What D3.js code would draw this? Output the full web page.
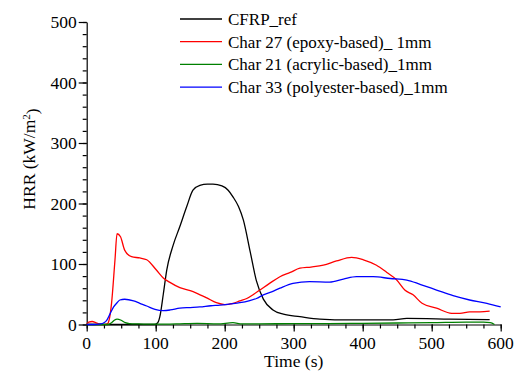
<!DOCTYPE html>
<html>
<head>
<meta charset="utf-8">
<script src="https://cdn.jsdelivr.net/npm/d3@7"></script>
</head>
<body style="margin:0">
<div id="chart"></div>
<script>
// Series data (time in s, HRR in kW/m2).
var cfrpTime = [0, 20, 40, 60, 80, 98, 103, 106, 111, 116, 125, 135, 145, 154, 164, 175, 183, 196, 205, 212, 220, 227, 237, 246, 256, 270, 285, 309, 338, 381, 444, 464, 526, 584];
var cfrpHrr  = [0, 0, 0, 0, 0, 0, 3, 13, 50, 90, 130, 162, 195, 222, 230, 232, 232, 229, 222, 211, 195, 173, 120, 72, 42, 24, 17, 13, 9, 7.5, 7.5, 10, 9, 8];

var char27Time = [0, 3, 8, 13, 18, 25, 30, 33, 36, 41, 44, 49, 55, 65, 77, 87, 101, 111, 120, 135, 150, 159, 174, 188, 200, 212, 222, 232, 242, 251, 265, 280, 295, 309, 325, 343, 362, 384, 401, 420, 435, 449, 461, 473, 486, 507, 529, 541, 555, 570, 584];
var char27Hrr  = [1, 4, 5, 3, 1, 0, 1, 10, 35, 107, 150, 145, 123, 112, 110, 107, 90, 77, 70, 61, 56, 52, 44, 36, 33, 35, 39, 43, 50, 57, 68, 79, 86, 93, 95, 98, 105, 111, 107, 98, 86, 74, 57, 49, 35, 27, 18.5, 18.5, 21, 21, 22];

var char21Time = [0, 20, 30, 36, 40, 44, 50, 56, 62, 75, 100, 130, 160, 190, 212, 225, 250, 300, 350, 400, 450, 500, 550, 575, 585, 591];
var char21Hrr  = [0, 0, 0, 3, 7, 9, 7, 3, 1.5, 1, 0.5, 1, 2, 1, 3, 1, 1, 1.5, 1.5, 2, 2.5, 3, 4, 4, 3, 0];

var char33Time = [0, 10, 20, 25, 29, 34, 39, 44, 48, 55, 68, 77, 87, 99, 111, 121, 135, 150, 164, 180, 193, 208, 222, 235, 246, 256, 268, 280, 299, 323, 352, 372, 391, 415, 440, 464, 484, 507, 531, 555, 580, 600];
var char33Hrr  = [0, 0, 1, 3, 7, 18, 29, 36, 40.5, 41.7, 39, 35, 30.6, 25, 23, 24, 27, 28, 29, 31, 32, 34, 36, 39, 43, 49, 54, 60, 68, 71, 70, 75, 79, 79, 76, 73.5, 66, 57, 47.6, 40.5, 35, 29];

var seriesNames = ["CFRP_ref", "Char 27 (epoxy-based)_ 1mm", "Char 21 (acrylic-based)_1mm", "Char 33 (polyester-based)_1mm"];
var seriesColors = ["#000000", "#ff0000", "#008000", "#0000ff"];

var xTicks = [0, 100, 200, 300, 400, 500, 600];
var yTicks = [0, 100, 200, 300, 400, 500];

var width = 516;
var height = 376;
var m = { left: 86.7, right: 15.3, top: 22, bottom: 51.5 };

var svg = d3.select("#chart").append("svg")
    .attr("width", width)
    .attr("height", height);

var x = d3.scaleLinear().domain([0, 600]).range([m.left, width - m.right]);
var y = d3.scaleLinear().domain([0, 500]).range([height - m.bottom, m.top]);

// Minor ticks (no labels)
svg.append("g")
    .attr("transform", "translate(0," + y(0) + ")")
    .call(d3.axisBottom(x).tickValues(d3.range(0, 601, 25)).tickSize(4).tickFormat(""))
    .call(function(g) { g.select(".domain").remove(); g.selectAll("text").remove(); });
svg.append("g")
    .attr("transform", "translate(" + x(0) + ",0)")
    .call(d3.axisLeft(y).tickValues(d3.range(0, 501, 20)).tickSize(4).tickFormat(""))
    .call(function(g) { g.select(".domain").remove(); g.selectAll("text").remove(); });

// Major ticks; labels drawn as plain texts afterwards
svg.append("g")
    .attr("transform", "translate(0," + y(0) + ")")
    .call(d3.axisBottom(x).tickValues(xTicks).tickSize(7).tickSizeOuter(0).tickFormat(""))
    .call(function(g) { g.selectAll("text").remove(); });
svg.append("g")
    .attr("transform", "translate(" + x(0) + ",0)")
    .call(d3.axisLeft(y).tickValues(yTicks).tickSize(8).tickSizeOuter(0).tickFormat(""))
    .call(function(g) { g.selectAll("text").remove(); });

svg.selectAll(".domain, .tick line").attr("stroke", "#000").attr("stroke-width", 1.2);

svg.selectAll("text.xlab")
    .data(xTicks)
    .enter().append("text")
    .attr("class", "xlab")
    .attr("x", function(d) { return x(d); })
    .attr("y", y(0) + 24)
    .attr("text-anchor", "middle")
    .attr("font-family", "Liberation Serif")
    .attr("font-size", 17.5)
    .text(function(d) { return d; });

svg.selectAll("text.ylab")
    .data(yTicks)
    .enter().append("text")
    .attr("class", "ylab")
    .attr("x", x(0) - 10)
    .attr("y", function(d) { return y(d) + 6; })
    .attr("text-anchor", "end")
    .attr("font-family", "Liberation Serif")
    .attr("font-size", 17.5)
    .text(function(d) { return d; });

// Curves
var seriesData = [
    d3.zip(cfrpTime, cfrpHrr),
    d3.zip(char27Time, char27Hrr),
    d3.zip(char21Time, char21Hrr),
    d3.zip(char33Time, char33Hrr)
];

var line = d3.line()
    .x(function(d) { return x(d[0]); })
    .y(function(d) { return y(d[1]); })
    .curve(d3.curveMonotoneX);

svg.selectAll("path.series")
    .data(seriesData)
    .enter().append("path")
    .attr("class", "series")
    .attr("d", line)
    .attr("fill", "none")
    .attr("stroke", function(d, i) { return seriesColors[i]; })
    .attr("stroke-width", 1.3);

// Legend
svg.selectAll("line.key")
    .data(seriesNames)
    .enter().append("line")
    .attr("class", "key")
    .attr("x1", 180).attr("x2", 222)
    .attr("y1", function(d, i) { return 19 + i * 22.7; })
    .attr("y2", function(d, i) { return 19 + i * 22.7; })
    .attr("stroke", function(d, i) { return seriesColors[i]; })
    .attr("stroke-width", 1.3);
svg.selectAll("text.key")
    .data(seriesNames)
    .enter().append("text")
    .attr("class", "key")
    .attr("x", 228)
    .attr("y", function(d, i) { return 25 + i * 22.7; })
    .attr("font-family", "Liberation Serif")
    .attr("font-size", 17)
    .text(function(d) { return d; });

// Axis titles
svg.append("text")
    .attr("x", (x(0) + x(600)) / 2)
    .attr("y", 367)
    .attr("text-anchor", "middle")
    .attr("font-family", "Liberation Serif")
    .attr("font-size", 17.5)
    .text("Time (s)");

var yTitle = svg.append("text")
    .attr("transform", "translate(35,159) rotate(-90)")
    .attr("text-anchor", "middle")
    .attr("font-family", "Liberation Serif")
    .attr("font-size", 17.5);
yTitle.append("tspan").text("HRR (kW/m");
yTitle.append("tspan").attr("dy", "-0.45em").attr("font-size", 11).text("2");
yTitle.append("tspan").attr("dy", "0.45em").text(")");
</script>
</body>
</html>
